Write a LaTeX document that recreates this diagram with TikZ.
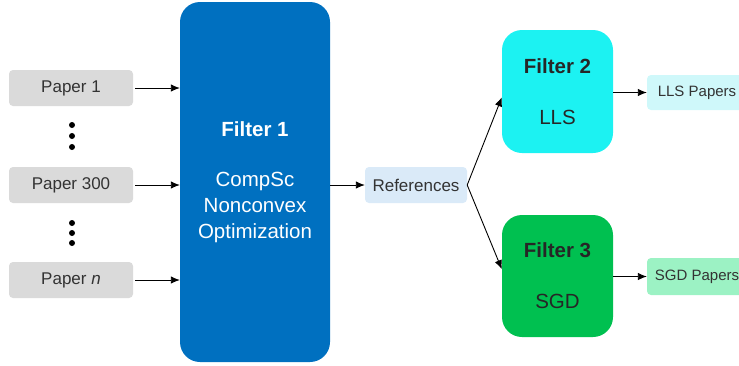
\documentclass[tikz,border=0pt]{standalone}
\usepackage{fontspec}
\setmainfont{Liberation Sans}
\usetikzlibrary{arrows.meta, positioning, calc}
\definecolor{FilterBlue}{HTML}{0070C0}
\definecolor{FilterCyan}{HTML}{1CF2F2}
\definecolor{FilterGreen}{HTML}{00C050}
\definecolor{PaperGray}{HTML}{DADADA}
\definecolor{RefBlue}{HTML}{DAEAF8}
\definecolor{LLSCyan}{HTML}{CFF8FA}
\definecolor{SGDGreen}{HTML}{9CF2C4}

\tikzset{
  paperbox/.style={fill=PaperGray, rounded corners=4pt, minimum width=124pt, minimum height=36pt,
    font=\fontsize{17}{19}\selectfont, text=black!80},
  filterbox/.style={rounded corners=20pt, align=center, font=\fontsize{20.5}{26}\selectfont},
  outbox/.style={rounded corners=4pt, minimum height=36pt, font=\fontsize{15}{18}\selectfont, text=black!80},
  flow/.style={-{Latex[length=9pt,width=7.5pt]}, line width=0.9pt}
}

\begin{document}
\begin{tikzpicture}[x=1pt, y=-1pt]
        \useasboundingbox (0,0) rectangle (739,365);
        \clip (0,0) rectangle (739,365);

        % Input papers
        \node[paperbox] (p1) at (71,88) {Paper 1};
        \node[paperbox] (p300) at (71,185) {Paper 300};
        \node[paperbox] (pn) at (71,280) {Paper \textit{n}};
        \foreach \y in {125, 136, 147, 223, 233, 243} {
            \fill (72,\y) circle (3pt);
        }

        % Filters
        \node[filterbox, fill=FilterBlue, text=white, minimum width=150pt, minimum height=360pt]
            (f1) at (255,182) {\textbf{Filter 1}\\[24pt]CompSc\\Nonconvex\\Optimization};
        \node[outbox, fill=RefBlue, minimum width=102pt, font=\fontsize{17}{19}\selectfont]
            (refs) at (416,185) {References};
        \node[filterbox, fill=FilterCyan, text=black!85, minimum width=111pt, minimum height=123pt]
            (f2) at (557.5,91.5) {\textbf{Filter 2}\\[25pt]LLS};
        \node[filterbox, fill=FilterGreen, text=black!85, minimum width=111pt, minimum height=122pt]
            (f3) at (557.5,276) {\textbf{Filter 3}\\[25pt]SGD};

        % Outputs
        \node[outbox, fill=LLSCyan, minimum width=104pt, minimum height=35pt] (lls) at (699,92.5) {\hspace*{-4pt}LLS Papers};
        \node[outbox, fill=SGDGreen, minimum width=104pt, minimum height=37pt] (sgd) at (699,276.5) {\hspace*{-4pt}SGD Papers};

        % Arrows
        \draw[flow] (p1.east) ++(2,0) -- (p1.east -| f1.west);
        \draw[flow] (p300.east) ++(2,0) -- (p300.east -| f1.west);
        \draw[flow] (pn.east) ++(2,0) -- (pn.east -| f1.west);
        \draw[flow] (f1.east |- refs.west) -- (refs.west);
        \draw[flow] (refs.east) -- (f2.186);
        \draw[flow] (refs.east) -- (f3.173);
        \draw[flow] (f2.east |- lls.west) -- (lls.west);
        \draw[flow] (f3.east |- sgd.west) -- (sgd.west);
    \end{tikzpicture}
\end{document}
